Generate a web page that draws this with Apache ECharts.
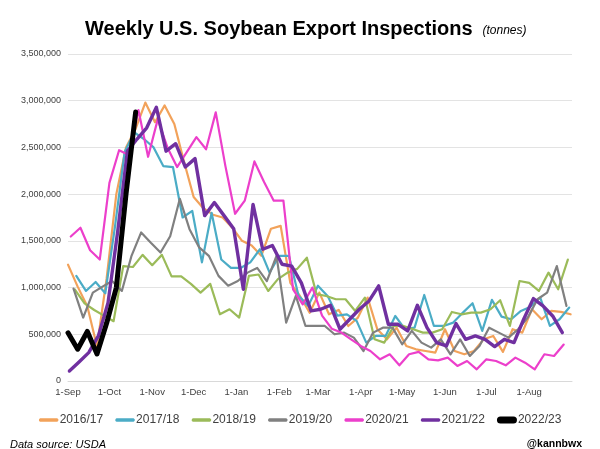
<!DOCTYPE html>
<html><head><meta charset="utf-8">
<script src="https://cdn.jsdelivr.net/npm/echarts@6/dist/echarts.min.js"></script>
<style>html,body{margin:0;padding:0;background:#fff}#c{width:600px;height:449px}</style>
</head><body><div id="c"></div>
<script>
const seasons = ['2016/17','2017/18','2018/19','2019/20','2020/21','2021/22','2022/23'];
// first weekly inspection date of each marketing year
const startDates = ['2016-09-01','2017-09-07','2018-09-06','2019-09-05','2020-09-03','2021-09-02','2022-09-01'];
const monthLabels = ['1-Sep','1-Oct','1-Nov','1-Dec','1-Jan','1-Feb','1-Mar','1-Apr','1-May','1-Jun','1-Jul','1-Aug'];
const monthDays = [0,30,61,91,122,153,181,212,242,273,303,334];

const v2016_17 = [1245000,1010000,800000,370000,1100000,2000000,2500000,2700000,2980000,2770000,2950000,2750000,2350000,1970000,1850000,1780000,1750000,1640000,1500000,1450000,1340000,1630000,1660000,1050000,910000,730000,946000,714000,761000,589000,679000,893000,554000,446000,571000,375000,339000,321000,304000,554000,321000,286000,321000,446000,482000,311000,554000,518000,768000,661000,750000,740000,714000];
const v2017_18 = [1125000,964000,1060000,939000,1650000,2450000,2660000,2590000,2500000,2300000,2290000,1750000,1820000,1270000,1800000,1300000,1210000,1210000,1270000,1410000,1160000,1340000,1340000,911000,804000,1020000,911000,700000,714000,643000,411000,482000,482000,696000,554000,571000,921000,589000,589000,625000,732000,832000,536000,868000,689000,661000,750000,796000,893000,589000,661000,786000];
const v2018_19 = [979000,830000,760000,700000,640000,1230000,1220000,1350000,1240000,1350000,1120000,1120000,1040000,946000,1040000,714000,768000,679000,1125000,1140000,964000,1090000,1160000,1200000,1320000,930000,910000,875000,875000,750000,893000,446000,411000,589000,589000,554000,518000,518000,554000,739000,714000,732000,732000,768000,864000,589000,1070000,1050000,964000,1160000,982000,1300000];
const v2019_20 = [989000,679000,946000,1010000,1070000,964000,1340000,1590000,1480000,1375000,1550000,1950000,1625000,1430000,1340000,1125000,1020000,1070000,1160000,1210000,1070000,1340000,625000,911000,589000,589000,589000,500000,518000,464000,321000,518000,571000,571000,393000,536000,411000,357000,446000,286000,446000,268000,375000,571000,518000,464000,554000,679000,875000,946000,1230000,804000];
const v2020_21 = [1546000,1640000,1400000,1300000,2120000,2470000,2420000,2900000,2400000,2800000,2500000,2290000,2450000,2610000,2480000,2875000,2300000,1790000,1930000,2350000,2130000,1930000,1930000,980000,820000,1000000,700000,560000,518000,446000,375000,321000,232000,286000,168000,286000,311000,232000,221000,250000,161000,214000,125000,232000,214000,168000,250000,196000,125000,286000,268000,390000];
const v2021_22 = [107000,204000,304000,482000,839000,1600000,2460000,2590000,2710000,2930000,2460000,2540000,2290000,2380000,1770000,1910000,1770000,1630000,982000,1890000,1410000,1450000,1250000,1230000,1050000,750000,768000,811000,554000,661000,768000,857000,1018000,607000,607000,536000,811000,571000,411000,375000,614000,446000,482000,446000,368000,446000,411000,661000,882000,804000,696000,518000];
const v2022_23 = [516000,340000,530000,290000,620000,1000000,2000000,2880000];

const values = [v2016_17,v2017_18,v2018_19,v2019_20,v2020_21,v2021_22,v2022_23];
const colors = ['#F2A25A','#4BACC6','#9BBB59','#808080','#EC3FCB','#7030A0','#000000'];
const widths = [2.2,2.2,2.2,2.2,2.2,3.4,5];

function dayOffset(s){
  const [y,m,d] = s.split('-').map(Number);
  return (Date.UTC(y,m-1,d) - Date.UTC(y,8,1)) / 86400000;
}

const series = seasons.map((name, k) => {
  const off = dayOffset(startDates[k]);
  return {
    name, type: 'line', symbol: 'none', smooth: false,
    z: 2 + k,
    lineStyle: { color: colors[k], width: widths[k], join: 'round', cap: 'round' },
    itemStyle: { color: colors[k] },
    data: values[k].map((v, i) => [off + 7 * i, v])
  };
});

const thinIcon = 'path://M0,0M20,7M1.5,1.7L18.5,1.7A1.9,1.9,0,0,1,18.5,5.3L1.5,5.3A1.9,1.9,0,0,1,1.5,1.7Z';
const thickIcon = 'path://M3.5,0L16.5,0A3.5,3.5,0,0,1,16.5,7L3.5,7A3.5,3.5,0,0,1,3.5,0Z';

const chart = echarts.init(document.getElementById('c'), null, { renderer: 'canvas' });
chart.setOption({
  animation: false,
  backgroundColor: '#ffffff',
  title: [
    {
      text: '{a|Weekly U.S. Soybean Export Inspections}  {b|(tonnes)}',
      left: 80, top: 14,
      textStyle: {
        rich: {
          a: { fontFamily: 'Liberation Sans, Arial, sans-serif', fontWeight: 'bold', fontSize: 20, color: '#000' },
          b: { fontFamily: 'Liberation Sans, Arial, sans-serif', fontStyle: 'italic', fontWeight: 'normal', fontSize: 12, color: '#000', padding: [4,0,0,0] }
        }
      }
    },
    {
      text: 'Data source: USDA', left: 5, top: 434,
      textStyle: { fontFamily: 'Liberation Sans, Arial, sans-serif', fontStyle: 'italic', fontWeight: 'normal', fontSize: 11, color: '#000' }
    },
    {
      text: '@kannbwx', right: 13, top: 434,
      textStyle: { fontFamily: 'Liberation Sans, Arial, sans-serif', fontWeight: 'bold', fontSize: 10.5, color: '#000' }
    }
  ],
  grid: { left: 68, right: 28, top: 54, bottom: 68, containLabel: false },
  legend: {
    data: seasons.map((s, k) => ({ name: s, icon: k === 6 ? thickIcon : thinIcon })),
    top: 409, left: 'center',
    itemWidth: 20, itemHeight: 7, itemGap: 12,
    textStyle: { fontFamily: 'Liberation Sans, Arial, sans-serif', fontSize: 12, color: '#404040', padding: [0,0,0,-4] }
  },
  xAxis: {
    type: 'value', min: 0, max: 365,
    axisLine: { show: true, lineStyle: { color: '#d9d9d9', width: 1 } },
    axisTick: { show: false },
    splitLine: { show: false },
    axisLabel: {
      customValues: monthDays,
      formatter: v => monthLabels[monthDays.indexOf(v)] || '',
      fontFamily: 'Liberation Sans, Arial, sans-serif', fontSize: 9.5, color: '#404040', margin: 6
    }
  },
  yAxis: {
    type: 'value', min: 0, max: 3500000, interval: 500000,
    axisLine: { show: false }, axisTick: { show: false },
    splitLine: { show: true, lineStyle: { color: '#e3e3e3', width: 1 } },
    axisLabel: {
      formatter: v => v.toLocaleString('en-US'),
      fontFamily: 'Liberation Sans, Arial, sans-serif', fontSize: 9, color: '#404040', margin: 7
    }
  },
  series
});
</script>
</body></html>
